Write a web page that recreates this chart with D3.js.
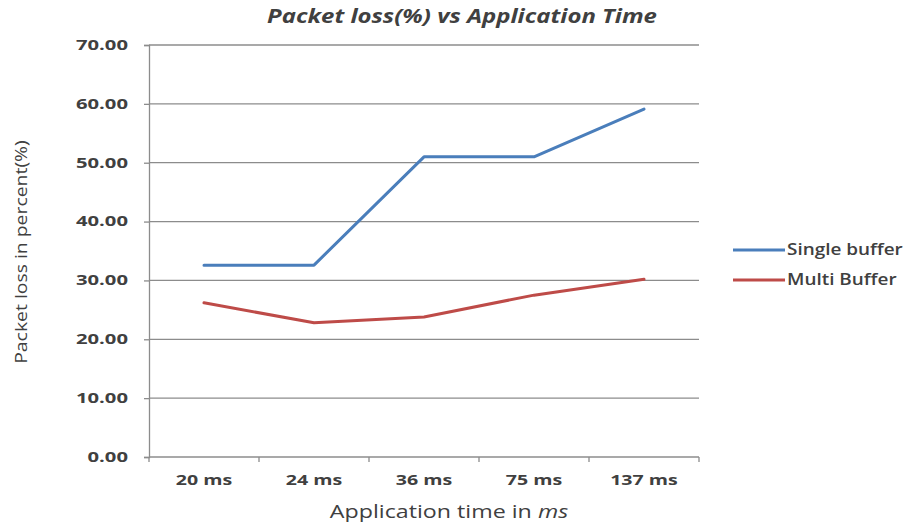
<!DOCTYPE html>
<html>
<head>
<meta charset="utf-8">
<script src="https://cdn.jsdelivr.net/npm/d3@7"></script>
<style>
  html, body { margin: 0; padding: 0; background: #fff; }
  svg { display: block; }
  text { font-family: "Open Sans", "DejaVu Sans", sans-serif; fill: #404040; }
</style>
</head>
<body>
<svg id="chart" width="916" height="524"></svg>
<script>
// Application times on the category axis
const categories = ["20 ms", "24 ms", "36 ms", "75 ms", "137 ms"];
// Packet loss (%) per buffering scheme
const singleBuffer = [32.6, 32.6, 51.0, 51.0, 59.1];
const multiBuffer = [26.2, 22.8, 23.8, 27.5, 30.2];
const seriesNames = ["Single buffer", "Multi Buffer"];
const seriesColors = ["#4a7ebb", "#be4b48"];
const yTicks = [0, 10, 20, 30, 40, 50, 60, 70];

const series = [
  { name: seriesNames[0], values: singleBuffer, color: seriesColors[0] },
  { name: seriesNames[1], values: multiBuffer, color: seriesColors[1] }
];

// Widen glyphs horizontally by a factor, keeping the anchor in place
function stretch(sel, f) {
  sel.each(function () {
    const w = this.getComputedTextLength();
    d3.select(this).attr("textLength", w * f).attr("lengthAdjust", "spacingAndGlyphs");
  });
}

const svg = d3.select("#chart");
const plot = { left: 149, right: 699, top: 45, bottom: 457 };

const x = d3.scaleBand().domain(categories).range([plot.left, plot.right]);
const y = d3.scaleLinear().domain([0, 70]).range([plot.bottom, plot.top]);

// Horizontal gridlines
svg.append("g")
  .selectAll("line")
  .data(yTicks.filter(d => d > 0))
  .join("line")
  .attr("x1", plot.left).attr("x2", plot.right)
  .attr("y1", d => y(d)).attr("y2", d => y(d))
  .attr("stroke", "#8c8c8c").attr("stroke-width", 1.3);

// Y axis
const yAxis = svg.append("g")
  .attr("transform", `translate(${plot.left},0)`)
  .call(d3.axisLeft(y).tickValues(yTicks).tickFormat(d3.format(".2f")).tickSize(5).tickPadding(16));
yAxis.select(".domain").attr("stroke", "#8c8c8c").attr("stroke-width", 1.3);
yAxis.selectAll(".tick line").attr("stroke", "#8c8c8c").attr("stroke-width", 1.3);
yAxis.selectAll(".tick text")
  .style("font-family", "'Open Sans', sans-serif")
  .style("font-size", "13.5px").style("font-weight", "700")
  .attr("fill", "#404040")
  .call(stretch, 1.5);

// X axis with ticks between categories
const xAxis = svg.append("g").attr("transform", `translate(0,${plot.bottom})`);
xAxis.append("line")
  .attr("x1", plot.left).attr("x2", plot.right)
  .attr("stroke", "#8c8c8c").attr("stroke-width", 1.3);
const boundaries = categories.map(c => x(c)).concat([x(categories[categories.length - 1]) + x.bandwidth()]);
xAxis.selectAll("line.tk")
  .data(boundaries)
  .join("line").attr("class", "tk")
  .attr("x1", d => d).attr("x2", d => d)
  .attr("y1", 0).attr("y2", 5)
  .attr("stroke", "#8c8c8c").attr("stroke-width", 1.3);
xAxis.selectAll("text")
  .data(categories)
  .join("text")
  .attr("x", d => x(d) + x.bandwidth() / 2)
  .attr("y", 28)
  .attr("text-anchor", "middle")
  .style("font-size", "13.5px").style("font-weight", "700")
  .attr("fill", "#404040")
  .text(d => d)
  .call(stretch, 1.45);

// Series lines
const line = d3.line()
  .x((d, i) => x(categories[i]) + x.bandwidth() / 2)
  .y(d => y(d));
svg.append("g")
  .selectAll("path")
  .data(series)
  .join("path")
  .attr("d", d => line(d.values))
  .attr("fill", "none")
  .attr("stroke", d => d.color)
  .attr("stroke-width", 3)
  .attr("stroke-linejoin", "round")
  .attr("stroke-linecap", "round");

// Legend
const legend = svg.append("g").attr("transform", "translate(733,250)");
const items = legend.selectAll("g")
  .data(series)
  .join("g")
  .attr("transform", (d, i) => `translate(0,${i * 30})`);
items.append("line")
  .attr("x1", 0).attr("x2", 52)
  .attr("stroke", d => d.color).attr("stroke-width", 3);
items.append("text")
  .attr("x", 54).attr("dy", "0.35em")
  .style("font-size", "15.5px").style("font-weight", "600")
  .attr("fill", "#262626")
  .text(d => d.name)
  .call(stretch, 1.22);

// Title
svg.append("text")
  .attr("x", 462).attr("y", 23)
  .attr("text-anchor", "middle")
  .style("font-size", "19px").style("font-weight", "bold").style("font-style", "italic")
  .attr("fill", "#1a1a1a")
  .text("Packet loss(%)  vs Application Time")
  .call(stretch, 1.26);

// Axis titles
const xTitle = svg.append("text")
  .attr("x", 449).attr("y", 518)
  .attr("text-anchor", "middle")
  .style("font-size", "18px")
  .attr("fill", "#262626");
xTitle.append("tspan").text("Application time in ");
xTitle.append("tspan").style("font-style", "italic").text("ms");
xTitle.call(stretch, 1.29);

svg.append("text")
  .attr("transform", "translate(27,252) rotate(-90)")
  .attr("text-anchor", "middle")
  .style("font-size", "17px")
  .attr("fill", "#262626")
  .text("Packet loss in percent(%)")
  .call(stretch, 1.14);
</script>
</body>
</html>
